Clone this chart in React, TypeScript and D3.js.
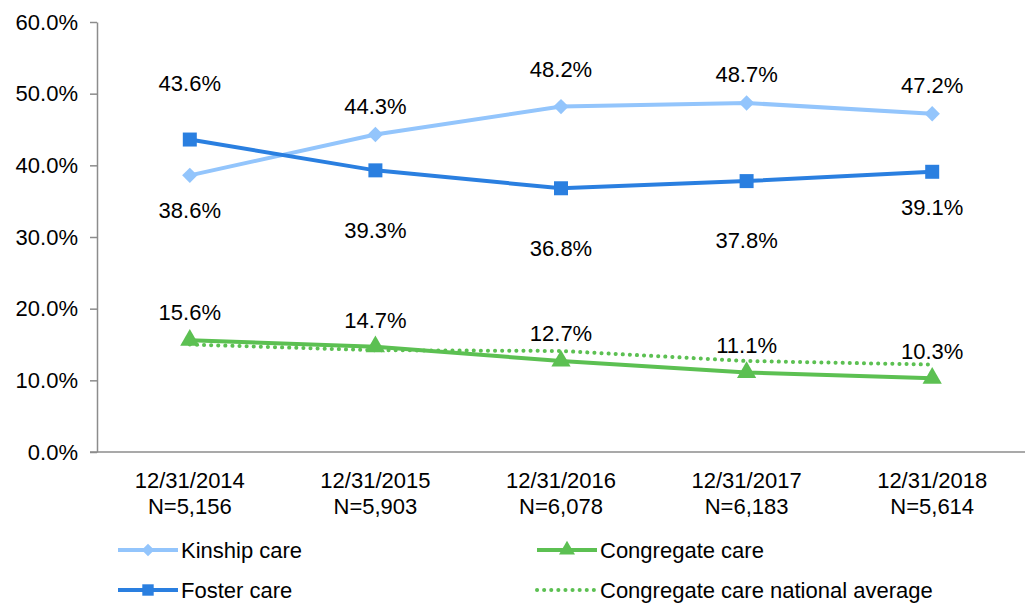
import React, { useEffect, useRef } from "react";
import * as d3 from "d3";

const WIDTH = 1029;
const HEIGHT = 606;

// chart data
const dates = ["12/31/2014", "12/31/2015", "12/31/2016", "12/31/2017", "12/31/2018"];
const counts = ["N=5,156", "N=5,903", "N=6,078", "N=6,183", "N=5,614"];
const kinship = [38.6, 44.3, 48.2, 48.7, 47.2];
const foster = [43.6, 39.3, 36.8, 37.8, 39.1];
const congregate = [15.6, 14.7, 12.7, 11.1, 10.3];
const nationalAvg = [15.0, 14.2, 14.1, 12.7, 12.2];
const yTicks = [0, 10, 20, 30, 40, 50, 60];

// label offsets (px) relative to the marker
const kinshipDy = [35, -29, -38, -29, -29];
const fosterDy = [-57, 60, 60, 59, 35];
const congregateDy = [-28, -27, -28, -27, -27];

const LIGHT = "#93c5fc";
const BLUE = "#2a7fe0";
const GREEN = "#5cc052";
const FS = 22;

const App: React.FC = () => {
  const ref = useRef<SVGSVGElement | null>(null);

  useEffect(() => {
    if (!ref.current) return;
    const svg = d3.select(ref.current);
    svg.selectAll("*").remove();

    const margin = { left: 97, right: 4, top: 22, bottom: 154 };
    const x = d3
      .scaleBand<number>()
      .domain(dates.map((_, i) => i))
      .range([margin.left, WIDTH - margin.right]);
    const y = d3.scaleLinear().domain([0, 60]).range([HEIGHT - margin.bottom, margin.top]);
    const cx = (i: number) => (x(i) || 0) + x.bandwidth() / 2;
    const font = "Liberation Sans, Arial, sans-serif";

    // y axis
    const yAxis = svg
      .append("g")
      .attr("transform", `translate(${margin.left},0)`)
      .call(d3.axisLeft(y).tickValues(yTicks).tickSize(7).tickSizeOuter(0).tickFormat((d) => `${(+d).toFixed(1)}%`));
    yAxis.select(".domain").attr("stroke", "#8c8c8c").attr("stroke-width", 1.5);
    yAxis.selectAll(".tick line").attr("stroke", "#8c8c8c").attr("stroke-width", 1.5);
    yAxis
      .selectAll(".tick text")
      .attr("font-family", font)
      .attr("font-size", FS)
      .attr("fill", "#000")
      .attr("x", -19);

    // x axis line
    svg
      .append("line")
      .attr("x1", margin.left - 7)
      .attr("x2", WIDTH - margin.right)
      .attr("y1", y(0))
      .attr("y2", y(0))
      .attr("stroke", "#8c8c8c")
      .attr("stroke-width", 1.5);

    const xl = svg.append("g").attr("font-family", font).attr("font-size", FS).attr("text-anchor", "middle");
    dates.forEach((d, i) => {
      xl.append("text").attr("x", cx(i)).attr("y", 488).text(d);
      xl.append("text").attr("x", cx(i)).attr("y", 514).text(counts[i]);
    });

    const line = d3
      .line<number>()
      .x((_, i) => cx(i))
      .y((d) => y(d));

    // national average dotted
    svg
      .append("path")
      .attr("d", line(nationalAvg) || "")
      .attr("fill", "none")
      .attr("stroke", GREEN)
      .attr("stroke-width", 4)
      .attr("stroke-dasharray", "0.1 7")
      .attr("stroke-linecap", "round");

    const series = [
      { values: kinship, color: LIGHT, sym: d3.symbolDiamond2, size: 150, dy: kinshipDy },
      { values: foster, color: BLUE, sym: d3.symbolSquare, size: 196, dy: fosterDy },
      { values: congregate, color: GREEN, sym: d3.symbolTriangle, size: 160, dy: congregateDy },
    ];

    series.forEach((s) => {
      svg
        .append("path")
        .attr("d", line(s.values) || "")
        .attr("fill", "none")
        .attr("stroke", s.color)
        .attr("stroke-width", 4);
      svg
        .selectAll(null)
        .data(s.values)
        .enter()
        .append("path")
        .attr("d", d3.symbol().type(s.sym).size(s.size)() || "")
        .attr("transform", (d, i) => `translate(${cx(i)},${y(d)})`)
        .attr("fill", s.color);
    });

    series.forEach((s) => {
      svg
        .selectAll(null)
        .data(s.values)
        .enter()
        .append("text")
        .attr("x", (_, i) => cx(i))
        .attr("y", (d, i) => y(d) + s.dy[i] + 8)
        .attr("text-anchor", "middle")
        .attr("font-family", font)
        .attr("font-size", FS)
        .text((d) => `${d.toFixed(1)}%`);
    });

    // legend
    const legend = [
      { label: "Kinship care", color: LIGHT, sym: d3.symbolDiamond2, size: 100, x: 118, y: 550, dotted: false },
      { label: "Congregate care", color: GREEN, sym: d3.symbolTriangle, size: 110, x: 537, y: 550, dotted: false },
      { label: "Foster care", color: BLUE, sym: d3.symbolSquare, size: 130, x: 118, y: 590, dotted: false },
      { label: "Congregate care national average", color: GREEN, sym: null, size: 0, x: 537, y: 590, dotted: true },
    ];
    legend.forEach((l) => {
      const g = svg.append("g");
      g.append("line")
        .attr("x1", l.x)
        .attr("x2", l.x + 60)
        .attr("y1", l.y)
        .attr("y2", l.y)
        .attr("stroke", l.color)
        .attr("stroke-width", 4)
        .attr("stroke-dasharray", l.dotted ? "0.1 7" : null)
        .attr("stroke-linecap", l.dotted ? "round" : "butt");
      if (l.sym) {
        g.append("path")
          .attr("d", d3.symbol().type(l.sym).size(l.size)() || "")
          .attr("transform", `translate(${l.x + 30},${l.y})`)
          .attr("fill", l.color);
      }
      g.append("text")
        .attr("x", l.x + 63)
        .attr("y", l.y + 8)
        .attr("font-family", font)
        .attr("font-size", FS)
        .text(l.label);
    });
  }, []);

  return <svg ref={ref} width={WIDTH} height={HEIGHT} style={{ position: "absolute", left: 0, top: 0, background: "#fff" }} />;
};

export default App;
